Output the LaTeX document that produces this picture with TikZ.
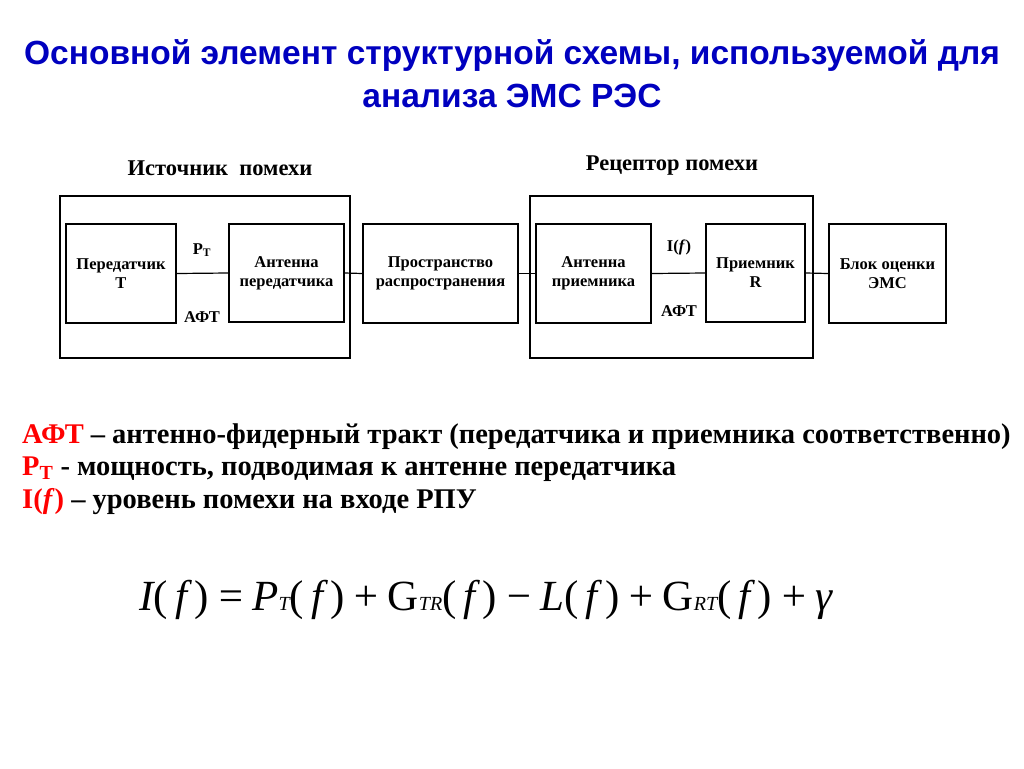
\documentclass[tikz,border=0pt]{standalone}
\usepackage{fontspec}
\setmainfont{Liberation Serif}
\newfontfamily\arial{Liberation Sans}
\newcommand{\sbs}[1]{{\fontsize{20}{22}\selectfont #1}}
\newcommand{\pf}{{\upshape(}\,f\,{\upshape)}}
\begin{document}
\begin{tikzpicture}[x=1pt,y=-1pt,
  blk/.style={draw,line width=1.2pt,font=\fontsize{16.5}{19}\selectfont\bfseries,align=center,inner sep=0pt},
  outer/.style={draw,line width=1.2pt},
  lbl/.style={font=\fontsize{16.5}{19}\selectfont\bfseries},
  grp/.style={font=\fontsize{22.5}{26}\selectfont\bfseries},
  leg/.style={anchor=west,font=\fontsize{28.5}{30}\selectfont\bfseries,inner sep=0pt}]
\useasboundingbox (0,0) rectangle (1024,768);
\node[font=\arial\fontsize{33.5}{43}\selectfont\bfseries,text=blue!75!black,align=center] (title) at (512,74) {Основной элемент структурной схемы, используемой для\\анализа ЭМС РЭС};
\node[grp] (src) at (220,168) {Источник\ \ помехи};
\node[grp] (rec) at (672,166) {Рецептор помехи};
\draw[outer] (60,196) rectangle (350,358);
\draw[outer] (530,196) rectangle (813,358);
\node[blk,minimum width=110pt,minimum height=99pt] (tx) at (121,273.5) {Передатчик\\Т};
\node[blk,minimum width=115pt,minimum height=98pt] (atx) at (286.5,273) {Антенна\\передатчика};
\node[blk,minimum width=155pt,minimum height=99pt] (sp) at (440.5,273.5) {Пространство\\распространения};
\node[blk,minimum width=115pt,minimum height=99pt] (arx) at (593.5,273.5) {Антенна\\приемника};
\node[blk,minimum width=99pt,minimum height=98pt] (rx) at (755.5,273) {Приемник\\R};
\node[blk,minimum width=117pt,minimum height=99pt] (ems) at (887.5,273.5) {Блок оценки\\ЭМС};
\draw[line width=1.2pt] (tx.east) -- (atx.west);
\draw[line width=1.2pt] (atx.east) -- (sp.west);
\draw[line width=1.2pt] (sp.east) -- (arx.west);
\draw[line width=1.2pt] (arx.east) -- (rx.west);
\draw[line width=1.2pt] (rx.east) -- (ems.west);
\node[lbl] (pt) at (202,250) {Р\textsubscript{Т}};
\node[lbl] (aft1) at (202,317) {АФТ};
\node[lbl] (if) at (679,247) {I(\textit{f})};
\node[lbl] (aft2) at (679,311) {АФТ};
\node[leg] (l1) at (22,437) {\textcolor{red}{АФТ} – антенно-фидерный тракт (передатчика и приемника соответственно)};
\node[leg] (l2) at (22,469) {\textcolor{red}{Р\textsubscript{Т}} - мощность, подводимая к антенне передатчика};
\node[leg] (l3) at (22,502) {\textcolor{red}{I(\textit{f})} – уровень помехи на входе РПУ};
\node[font=\fontsize{43}{46}\selectfont\itshape,inner sep=0pt] (eq) at (486,600) {I\pf\,=\,P\sbs{T}\pf\,+\,{\upshape G}\sbs{TR}\pf\,\textminus\,L\pf\,+\,{\upshape G}\sbs{RT}\pf\,+\,γ};
\end{tikzpicture}
\end{document}
